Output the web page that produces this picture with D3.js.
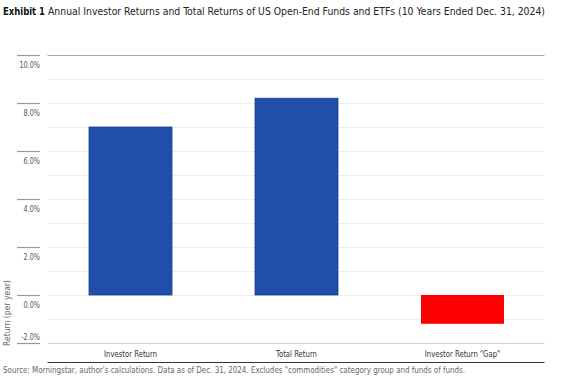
<!DOCTYPE html>
<html>
<head>
<meta charset="utf-8">
<script src="https://cdn.jsdelivr.net/npm/d3@7"></script>
<style>
  body { margin: 0; background: #fff; }
  svg { display: block; font-family: "Liberation Sans Narrow", "DejaVu Sans Condensed", Roboto, sans-serif; }
</style>
</head>
<body>
<svg id="chart" width="567" height="380"></svg>
<script>
// data
const categories = ["Investor Return", "Total Return", "Investor Return \"Gap\""];
const values = [7.0, 8.2, -1.2];
const yTicks = [-2, 0, 2, 4, 6, 8, 10];
const gridTicks = [-1, 0, 1, 2, 3, 4, 5, 6, 7, 8, 9];

const svg = d3.select("#chart");

const left = 47.5, right = 545.5;
const y = d3.scaleLinear().domain([-2, 10]).range([343, 55]);
const x = d3.scaleBand()
  .domain(categories)
  .range([left, right])
  .paddingInner(0.5)
  .paddingOuter(0.25);

// squeeze a text horizontally, the source uses a condensed face
function squeeze(node, ratio) {
  const w = node.getComputedTextLength();
  d3.select(node).attr("textLength", w * ratio).attr("lengthAdjust", "spacingAndGlyphs");
}

// title, bold lead-in and the rest as two texts
svg.append("text")
  .attr("x", 3)
  .attr("y", 15)
  .style("font-size", "11px")
  .style("font-weight", "bold")
  .attr("fill", "#111")
  .text("Exhibit 1")
  .attr("textLength", 42)
  .attr("lengthAdjust", "spacingAndGlyphs");
svg.append("text")
  .attr("x", 48)
  .attr("y", 15)
  .style("font-size", "10.4px")
  .attr("fill", "#222")
  .text("Annual Investor Returns and Total Returns of US Open-End Funds and ETFs (10 Years Ended Dec. 31, 2024)")
  .attr("textLength", 497)
  .attr("lengthAdjust", "spacingAndGlyphs");

// light gridlines at every 1%
svg.append("g")
  .selectAll("line")
  .data(gridTicks)
  .enter()
  .append("line")
    .attr("x1", left)
    .attr("x2", right - 1)
    .attr("y1", d => Math.round(y(d)) + 0.5)
    .attr("y2", d => Math.round(y(d)) + 0.5)
    .attr("stroke", "#eeeeee");

// top and bottom lines
svg.append("line")
  .attr("x1", left).attr("x2", right - 1)
  .attr("y1", Math.round(y(10)) + 0.5).attr("y2", Math.round(y(10)) + 0.5)
  .attr("stroke", "#a8a8a8").attr("stroke-width", 1.2);
svg.append("line")
  .attr("x1", left).attr("x2", right - 1)
  .attr("y1", Math.round(y(-2)) + 0.5).attr("y2", Math.round(y(-2)) + 0.5)
  .attr("stroke", "#cfcfcf");

// y axis: short tick marks with the labels sitting under them
const yAxis = svg.append("g").attr("transform", "translate(40,0)")
  .call(d3.axisLeft(y).tickValues(yTicks).tickSize(23).tickFormat(d => d.toFixed(1) + "%"));
yAxis.select(".domain").remove();
yAxis.selectAll(".tick line").attr("stroke", "#999").attr("stroke-width", 1.2);
yAxis.selectAll(".tick text")
  .attr("x", 0)
  .attr("dy", d => d == -2 ? "-4px" : "12px")
  .attr("fill", "#555")
  .style("font-size", "8px")
  .style("font-family", "\"Liberation Sans Narrow\", \"DejaVu Sans Condensed\", sans-serif")
  .each(function() { squeeze(this, 0.9); });

// y axis title
svg.append("text")
  .attr("transform", "translate(10," + 313 + ")rotate(-90)")
  .attr("text-anchor", "middle")
  .attr("fill", "#666")
  .style("font-size", "8.5px")
  .text("Return (per year)");

// bars
svg.selectAll("rect.bar")
  .data(values)
  .enter()
  .append("rect")
    .attr("class", "bar")
    .attr("x", (d, i) => x(categories[i]))
    .attr("width", x.bandwidth())
    .attr("y", d => y(Math.max(0, d)))
    .attr("height", d => Math.abs(y(d) - y(0)))
    .attr("fill", d => d < 0 ? "#ff0000" : "#1f4fa9")
    .attr("stroke", d => d < 0 ? "none" : "#1a4393")
    .attr("stroke-width", 0.8);

// category axis
const xAxis = svg.append("g").attr("transform", "translate(0,362)")
  .call(d3.axisTop(x).tickSize(0));
xAxis.select(".domain").attr("stroke", "#333").attr("stroke-width", 1.2).attr("d", "M" + left + ",0.5H" + (right - 1));
xAxis.selectAll(".tick text")
  .attr("y", -5)
  .attr("fill", "#333")
  .style("font-size", "9px")
  .style("font-family", "\"Liberation Sans Narrow\", \"DejaVu Sans Condensed\", sans-serif")
  .each(function() { squeeze(this, 0.85); });

// source note
svg.append("text")
  .attr("x", 3)
  .attr("y", 373)
  .attr("fill", "#666")
  .style("font-size", "9px")
  .text("Source: Morningstar, author's calculations. Data as of Dec. 31, 2024. Excludes \"commodities\" category group and funds of funds.")
  .attr("textLength", 462)
  .attr("lengthAdjust", "spacingAndGlyphs");
</script>
</body>
</html>
